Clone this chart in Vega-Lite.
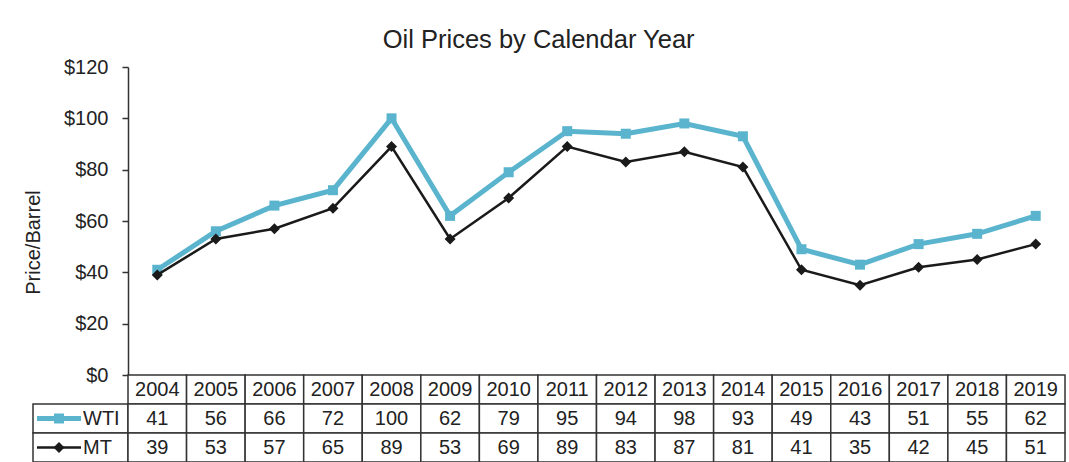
{
  "$schema": "https://vega.github.io/schema/vega-lite/v6.json",
  "padding": {"left": 23, "top": 27, "right": 0, "bottom": 0},
  "background": "white",
  "title": {"text": "Oil Prices by Calendar Year", "fontSize": 25.5, "font": "Liberation Sans", "fontWeight": "normal", "color": "#222", "anchor": "middle", "offset": 4, "dx": -6},
  "datasets": {
    "prices": [
      {"year": "2004", "series": "WTI", "price": 41}, {"year": "2004", "series": "MT", "price": 39},
      {"year": "2005", "series": "WTI", "price": 56}, {"year": "2005", "series": "MT", "price": 53},
      {"year": "2006", "series": "WTI", "price": 66}, {"year": "2006", "series": "MT", "price": 57},
      {"year": "2007", "series": "WTI", "price": 72}, {"year": "2007", "series": "MT", "price": 65},
      {"year": "2008", "series": "WTI", "price": 100}, {"year": "2008", "series": "MT", "price": 89},
      {"year": "2009", "series": "WTI", "price": 62}, {"year": "2009", "series": "MT", "price": 53},
      {"year": "2010", "series": "WTI", "price": 79}, {"year": "2010", "series": "MT", "price": 69},
      {"year": "2011", "series": "WTI", "price": 95}, {"year": "2011", "series": "MT", "price": 89},
      {"year": "2012", "series": "WTI", "price": 94}, {"year": "2012", "series": "MT", "price": 83},
      {"year": "2013", "series": "WTI", "price": 98}, {"year": "2013", "series": "MT", "price": 87},
      {"year": "2014", "series": "WTI", "price": 93}, {"year": "2014", "series": "MT", "price": 81},
      {"year": "2015", "series": "WTI", "price": 49}, {"year": "2015", "series": "MT", "price": 41},
      {"year": "2016", "series": "WTI", "price": 43}, {"year": "2016", "series": "MT", "price": 35},
      {"year": "2017", "series": "WTI", "price": 51}, {"year": "2017", "series": "MT", "price": 42},
      {"year": "2018", "series": "WTI", "price": 55}, {"year": "2018", "series": "MT", "price": 45},
      {"year": "2019", "series": "WTI", "price": 62}, {"year": "2019", "series": "MT", "price": 51}
    ],
    "legendRows": [{"series": "WTI"}, {"series": "MT"}]
  },
  "columns": 2,
  "spacing": 0,
  "bounds": "flush",
  "concat": [
    {"width": 95, "height": 308, "data": {"values": []}, "mark": "point", "encoding": {}},
    {
      "width": 937,
      "height": 308,
      "data": {"name": "prices"},
      "encoding": {
        "x": {"field": "year", "type": "ordinal", "scale": {"type": "point", "padding": 0.5}, "axis": null},
        "y": {
          "field": "price", "type": "quantitative",
          "scale": {"domain": [0, 120], "nice": false},
          "axis": {
            "values": [0, 20, 40, 60, 80, 100, 120], "format": "$.0f", "grid": false, "domain": true, "zindex": 1,
            "domainColor": "#333", "domainWidth": 1.5, "domainOpacity": 1, "tickColor": "#333", "tickWidth": 1.5, "tickSize": 6,
            "labelFont": "Liberation Sans", "labelFontSize": 20, "labelColor": "#222", "labelPadding": 14,
            "title": "Price/Barrel", "titleFont": "Liberation Sans", "titleFontSize": 20, "titleFontWeight": "normal", "titleColor": "#222", "titlePadding": 20, "titleY": 175
          }
        }
      },
      "layer": [
        {
          "transform": [{"filter": "datum.series === 'WTI'"}],
          "mark": {"type": "line", "color": "#5AB4CE", "strokeWidth": 5, "point": {"shape": "square", "size": 100, "filled": true, "color": "#5AB4CE", "opacity": 1}}
        },
        {
          "transform": [{"filter": "datum.series === 'MT'"}],
          "mark": {"type": "line", "color": "#1a1a1a", "strokeWidth": 2.5, "point": {"shape": "diamond", "size": 121, "filled": true, "color": "#1a1a1a", "opacity": 1}}
        }
      ]
    },
    {
      "width": 95,
      "height": 87,
      "data": {"name": "legendRows"},
      "encoding": {
        "y": {"field": "series", "type": "nominal", "scale": {"type": "band", "domain": ["Year", "WTI", "MT"], "paddingInner": 0, "paddingOuter": 0}, "axis": null}
      },
      "layer": [
        {
          "mark": {"type": "rect", "fill": "white", "stroke": "#333", "strokeWidth": 1.5},
          "encoding": {
            "x": {"datum": 0, "type": "quantitative", "scale": {"domain": [0, 95], "nice": false, "zero": false}, "axis": null},
            "x2": {"datum": 95}
          }
        },
        {
          "transform": [{"filter": "datum.series === 'WTI'"}],
          "mark": {"type": "rule", "color": "#5AB4CE", "strokeWidth": 5},
          "encoding": {"x": {"datum": 4, "type": "quantitative"}, "x2": {"datum": 48}}
        },
        {
          "transform": [{"filter": "datum.series === 'WTI'"}],
          "mark": {"type": "point", "shape": "square", "size": 100, "filled": true, "color": "#5AB4CE", "opacity": 1},
          "encoding": {"x": {"datum": 26, "type": "quantitative"}}
        },
        {
          "transform": [{"filter": "datum.series === 'MT'"}],
          "mark": {"type": "rule", "color": "#1a1a1a", "strokeWidth": 2.5},
          "encoding": {"x": {"datum": 4, "type": "quantitative"}, "x2": {"datum": 48}}
        },
        {
          "transform": [{"filter": "datum.series === 'MT'"}],
          "mark": {"type": "point", "shape": "diamond", "size": 121, "filled": true, "color": "#1a1a1a", "opacity": 1},
          "encoding": {"x": {"datum": 26, "type": "quantitative"}}
        },
        {
          "mark": {"type": "text", "align": "left", "baseline": "middle", "fontSize": 20, "font": "Liberation Sans", "color": "#222"},
          "encoding": {"x": {"datum": 50, "type": "quantitative"}, "text": {"field": "series"}}
        }
      ]
    },
    {
      "width": 937,
      "height": 87,
      "data": {"name": "prices"},
      "encoding": {
        "x": {"field": "year", "type": "ordinal", "scale": {"type": "band", "paddingInner": 0, "paddingOuter": 0}, "axis": null}
      },
      "layer": [
        {
          "transform": [{"filter": "datum.series === 'WTI'"}],
          "mark": {"type": "rect", "fill": "white", "stroke": "#333", "strokeWidth": 1.5},
          "encoding": {
            "y": {"datum": "Year", "type": "nominal", "scale": {"type": "band", "domain": ["Year", "WTI", "MT"], "paddingInner": 0, "paddingOuter": 0}, "axis": null}
          }
        },
        {
          "mark": {"type": "rect", "fill": "white", "stroke": "#333", "strokeWidth": 1.5},
          "encoding": {"y": {"field": "series", "type": "nominal"}}
        },
        {
          "transform": [{"filter": "datum.series === 'WTI'"}],
          "mark": {"type": "text", "baseline": "middle", "fontSize": 20, "font": "Liberation Sans", "color": "#222"},
          "encoding": {"y": {"datum": "Year", "type": "nominal"}, "text": {"field": "year"}}
        },
        {
          "mark": {"type": "text", "baseline": "middle", "fontSize": 20, "font": "Liberation Sans", "color": "#222"},
          "encoding": {"y": {"field": "series", "type": "nominal"}, "text": {"field": "price"}}
        }
      ]
    }
  ],
  "config": {"view": {"stroke": null}, "font": "Liberation Sans"}
}
